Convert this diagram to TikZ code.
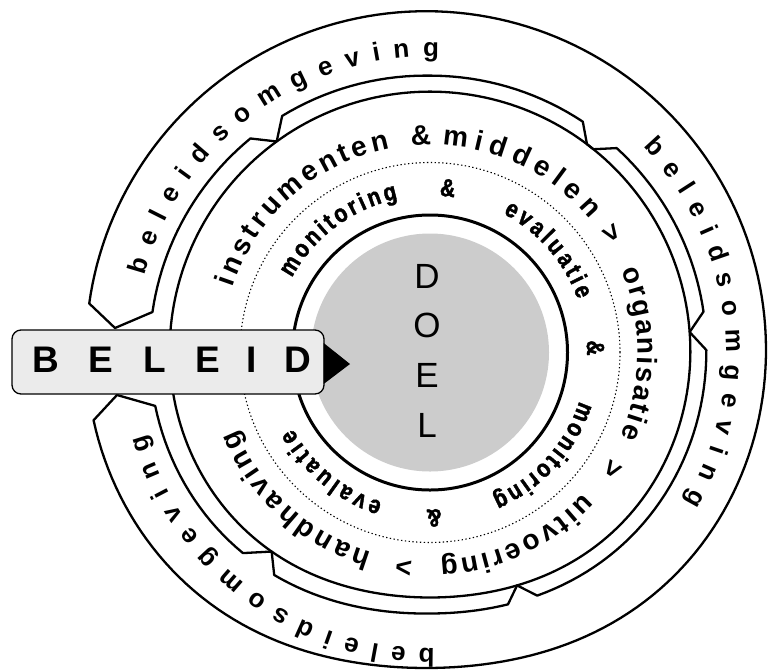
\documentclass[tikz,border=0pt]{standalone}
\usepackage{fontspec}
\setmainfont{Liberation Sans}
\newfontfamily\condfont[FakeStretch=0.84, FakeBold=1.6]{Liberation Sans Bold}
\usetikzlibrary{decorations.text,calc}
\newcommand\innerfont{\condfont\fontsize{25pt}{25pt}\selectfont}
\newcommand\midfont{\bfseries\fontsize{28pt}{28pt}\selectfont}
\newcommand\outfont{\bfseries\fontsize{26pt}{26pt}\selectfont}
\newcommand\bigfont{\bfseries\fontsize{37pt}{37pt}\selectfont}
\newcommand\doelfont{\fontsize{35pt}{35pt}\selectfont}
\newcommand\arctext[5]{%
  \path[decorate, decoration={text along path, text={|#4|#5}, text align=fit to path}]
    ($(C)+(#2:#1)$) arc[start angle=#2, end angle=#3, radius=#1];}
\newcommand\arcglyph[4]{%
  \node[rotate=#2-90, anchor=base, inner sep=0, font=#3] at ($(C)+(#2:#1)$) {#4};}
\begin{document}
\begin{tikzpicture}[x=1pt,y=1pt,
  declare function={
    bu(\t)=4.1*(1+sin(\t));
    bmp(\t)=1/(1+bu(\t)+0.5*bu(\t)^2+bu(\t)^3/6);
    rm(\t)=261-16*bmp(\t);
    ri(\t)=277+4*max(0,-cos(\t))-16*bmp(\t);
    ro(\t)=341-25*bmp(\t);
  },
  ringline/.style={line width=2.3pt, line join=round},
  letter/.style={anchor=base, inner sep=0pt},
]
\useasboundingbox (0,0) rectangle (768,-670);
\coordinate (C) at (430,-352.5);

% centre
\fill[black!20] (C) circle[radius=119];
\draw[line width=3pt] (C) circle[radius=137.5];
\draw[line width=1.1pt, dash pattern=on 1.3pt off 2.5pt] (C) circle[radius=190];
\draw[ringline] plot[domain=-270:90, samples=241]
  ({430+rm(\x)*cos(\x)},{-352.5+rm(\x)*sin(\x)}) -- cycle;

% notch points
\coordinate (A2) at ({430+rm(126)*cos(126)},{-352.5+rm(126)*sin(126)});
\coordinate (B2) at ({430+rm(51.2)*cos(51.2)},{-352.5+rm(51.2)*sin(51.2)});
\coordinate (B3) at ({430+rm(53)*cos(53)},{-352.5+rm(53)*sin(53)});
\coordinate (C2) at ({430+rm(4.5)*cos(4.5)},{-352.5+rm(4.5)*sin(4.5)});
\coordinate (D2) at ({430+rm(-69.5)*cos(-69.5)},{-352.5+rm(-69.5)*sin(-69.5)});
\coordinate (E2) at ({430+rm(-128.5)*cos(-128.5)},{-352.5+rm(-128.5)*sin(-128.5)});
\coordinate (ULapex) at (115,-328);
\coordinate (BLapex) at (117,-395);

% beleidsomgeving band outline
\draw[ringline]
  plot[domain=171.8:-168.4, samples=200] ({426+ro(\x)*cos(\x)},{-352+ro(\x)*sin(\x)})
  -- (BLapex)
  -- plot[domain=-169:-133, samples=20] ({430+ri(\x)*cos(\x)},{-352.5+ri(\x)*sin(\x)})
  -- (E2)
  -- plot[domain=-125:-72.8, samples=30] ({430+ri(\x)*cos(\x)},{-352.5+ri(\x)*sin(\x)})
  -- (D2)
  -- plot[domain=-66.2:0.5, samples=35] ({430+ri(\x)*cos(\x)},{-352.5+ri(\x)*sin(\x)})
  -- (C2)
  -- plot[domain=8.5:47.6, samples=25] ({430+ri(\x)*cos(\x)},{-352.5+ri(\x)*sin(\x)})
  -- (B2) -- (B3)
  -- plot[domain=56.5:122, samples=35] ({430+ri(\x)*cos(\x)},{-352.5+ri(\x)*sin(\x)})
  -- (A2)
  -- plot[domain=130:171.7, samples=25] ({430+ri(\x)*cos(\x)},{-352.5+ri(\x)*sin(\x)})
  -- (ULapex) -- cycle;

% outer texts
\arctext{296}{164.9}{88.3}{\outfont}{beleidsomgeving}
\arctext{296}{44}{-30.4}{\outfont}{beleidsomgeving}
\arctext{296}{-89.1}{-164}{\outfont}{beleidsomgeving}

% middle texts
\arctext{208}{161.7}{101.1}{\midfont}{instrumenten}
\arcglyph{208}{92.4}{\midfont}{\&}
\arctext{208}{86.6}{39.9}{\midfont}{middelen}
\arcglyph{208}{33.4}{\midfont}{>}
\arctext{208}{23.2}{-23.9}{\midfont}{organisatie}
\arcglyph{208}{-32.6}{\midfont}{>}
\arctext{208}{-42.5}{-87.2}{\midfont}{uitvoering}
\arcglyph{208}{-97}{\midfont}{>}
\arctext{208}{-106.3}{-158.2}{\midfont}{handhaving}

% inner texts
\arctext{157}{151.6}{101.8}{\innerfont}{monitoring}
\arcglyph{157}{83.8}{\innerfont}{\&}
\arctext{157}{62.2}{19.7}{\innerfont}{evaluatie}
\arcglyph{157}{1.6}{\innerfont}{\&}
\arctext{157}{-18}{-66.6}{\innerfont}{monitoring}
\arcglyph{157}{-88.6}{\innerfont}{\&}
\arctext{157}{-107.7}{-151}{\innerfont}{evaluatie}

% DOEL
\node[letter, font=\doelfont] (d1) at (427,-288) {D};
\node[letter, font=\doelfont] (d2) at (427,-337) {O};
\node[letter, font=\doelfont] (d3) at (427,-387) {E};
\node[letter, font=\doelfont] (d4) at (427,-437) {L};

% BELEID box
\node[draw, line width=1.3pt, rounded corners=9pt, fill=black!8,
      minimum width=312pt, minimum height=64pt, inner sep=0pt] (box) at (168,-362) {};
\coordinate (tip) at (350,-364);
\fill ($(box.east)+(-1,19)$) -- (tip) -- ($(box.east)+(-1,-22)$) -- cycle;
\node[letter, font=\bigfont] (l1) at (46,-372) {B};
\node[letter, font=\bigfont] (l2) at (100.5,-372) {E};
\node[letter, font=\bigfont] (l3) at (155,-372) {L};
\node[letter, font=\bigfont] (l4) at (207.5,-372) {E};
\node[letter, font=\bigfont] (l5) at (252,-372) {I};
\node[letter, font=\bigfont] (l6) at (298,-372) {D};
\end{tikzpicture}
\end{document}
